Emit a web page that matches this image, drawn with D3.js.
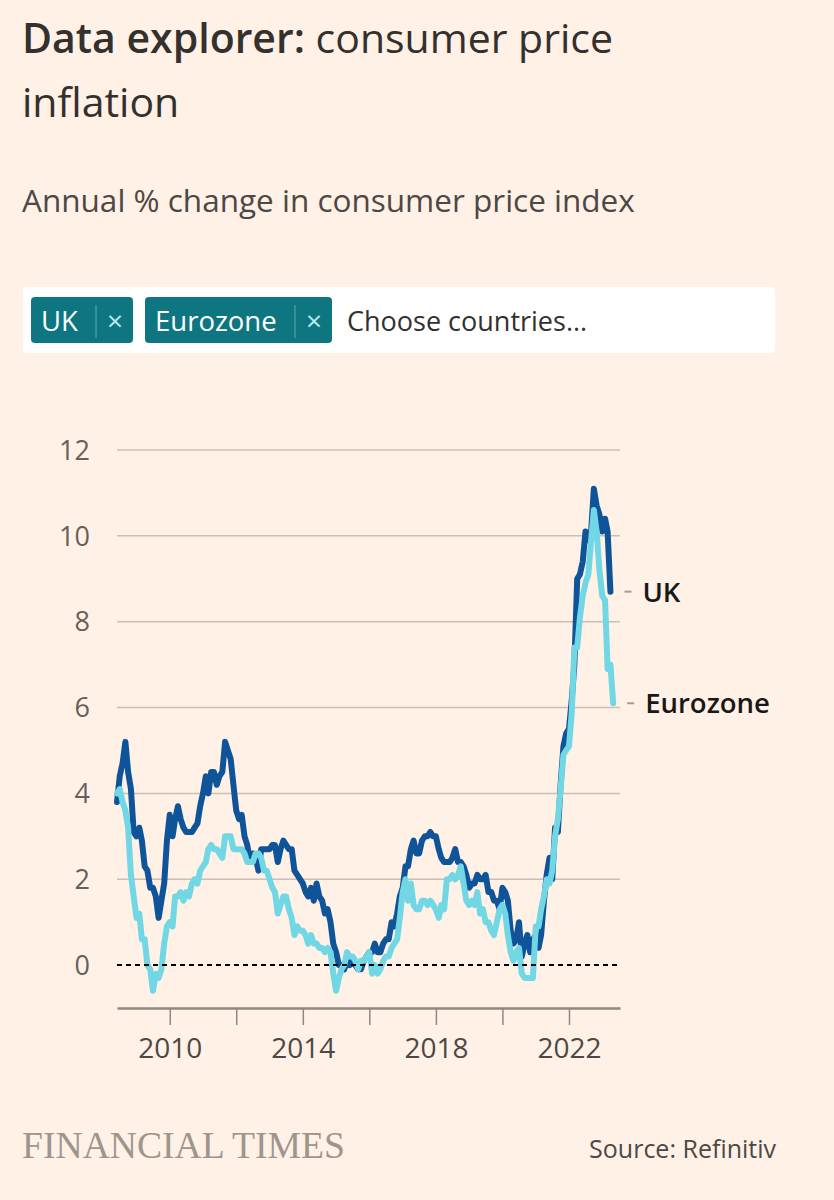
<!DOCTYPE html>
<html>
<head>
<meta charset="utf-8">
<script src="https://cdn.jsdelivr.net/npm/d3@7"></script>
<style>
  html, body { margin: 0; padding: 0; background: #fff1e5; }
  svg { display: block; font-family: 'Open Sans', sans-serif; }
</style>
</head>
<body>
<div id="chart"></div>
<script>
// monthly annual % change, UK from Jun 2008 to Apr 2023
const ukValues = [
  3.8, 4.4, 4.7, 5.2, 4.5, 4.1, 3.1,
  3.0, 3.2, 2.9, 2.3, 2.2, 1.8, 1.8, 1.6, 1.1, 1.5, 1.9, 2.9,
  3.5, 3.0, 3.4, 3.7, 3.4, 3.2, 3.1, 3.1, 3.1, 3.2, 3.3, 3.7,
  4.0, 4.4, 4.0, 4.5, 4.5, 4.2, 4.4, 4.5, 5.2, 5.0, 4.8, 4.2,
  3.6, 3.4, 3.5, 3.0, 2.8, 2.4, 2.6, 2.5, 2.2, 2.7, 2.7, 2.7,
  2.7, 2.8, 2.8, 2.4, 2.7, 2.9, 2.8, 2.7, 2.7, 2.2, 2.1, 2.0,
  1.9, 1.7, 1.6, 1.8, 1.5, 1.9, 1.6, 1.5, 1.2, 1.3, 1.0, 0.5,
  0.3, 0.0, 0.0, -0.1, 0.1, 0.0, 0.1, 0.0, -0.1, -0.1, 0.1, 0.2,
  0.3, 0.3, 0.5, 0.3, 0.3, 0.5, 0.6, 0.6, 1.0, 0.9, 1.2, 1.6,
  1.8, 2.3, 2.3, 2.7, 2.9, 2.6, 2.6, 2.9, 3.0, 3.0, 3.1, 3.0,
  3.0, 2.7, 2.5, 2.4, 2.4, 2.4, 2.5, 2.7, 2.4, 2.4, 2.3, 2.1,
  1.8, 1.9, 1.9, 2.1, 2.0, 2.0, 2.1, 1.7, 1.7, 1.5, 1.5, 1.3,
  1.8, 1.7, 1.5, 0.8, 0.5, 0.6, 1.0, 0.2, 0.5, 0.7, 0.3, 0.6,
  0.7, 0.4, 0.7, 1.5, 2.1, 2.5, 2.0, 3.2, 3.1, 4.2, 5.1, 5.4,
  5.5, 6.2, 7.0, 9.0, 9.1, 9.4, 10.1, 9.9, 10.1, 11.1, 10.7, 10.5,
  10.1, 10.4, 10.1, 8.7
]

// Eurozone from Jun 2008 to May 2023
const euroValues = [
  4.0, 4.1, 3.8, 3.6, 3.2, 2.1, 1.6,
  1.1, 1.2, 0.6, 0.6, 0.0, -0.1, -0.6, -0.2, -0.3, -0.1, 0.5, 0.9,
  1.0, 0.9, 1.6, 1.6, 1.7, 1.5, 1.7, 1.6, 1.9, 2.0, 1.9, 2.2,
  2.3, 2.4, 2.7, 2.8, 2.7, 2.7, 2.6, 2.5, 3.0, 3.0, 3.0, 2.7,
  2.7, 2.7, 2.7, 2.6, 2.4, 2.4, 2.4, 2.6, 2.6, 2.5, 2.2, 2.2,
  2.0, 1.8, 1.7, 1.2, 1.4, 1.6, 1.6, 1.3, 1.1, 0.7, 0.9, 0.8,
  0.8, 0.7, 0.5, 0.7, 0.5, 0.5, 0.4, 0.4, 0.3, 0.4, 0.3, -0.2,
  -0.6, -0.3, -0.1, 0.0, 0.3, 0.2, 0.2, 0.1, -0.1, 0.1, 0.1, 0.2,
  0.3, -0.2, 0.0, -0.2, -0.1, 0.1, 0.2, 0.2, 0.4, 0.5, 0.6, 1.1,
  1.7, 2.0, 1.5, 1.9, 1.4, 1.3, 1.3, 1.5, 1.5, 1.4, 1.5, 1.4,
  1.3, 1.1, 1.4, 1.3, 2.0, 2.0, 2.1, 2.0, 2.1, 2.3, 1.9, 1.5,
  1.4, 1.5, 1.4, 1.7, 1.2, 1.3, 1.0, 1.0, 0.8, 0.7, 1.0, 1.3,
  1.4, 1.2, 0.7, 0.3, 0.1, 0.3, 0.4, -0.2, -0.3, -0.3, -0.3, -0.3,
  0.9, 0.9, 1.3, 1.6, 2.0, 1.9, 2.2, 3.0, 3.4, 4.1, 4.9, 5.0,
  5.1, 5.9, 7.4, 7.4, 8.1, 8.6, 8.9, 9.1, 9.9, 10.6, 10.1, 9.2,
  8.6, 8.5, 6.9, 7.0, 6.1
]

const seriesNames = ['UK', 'Eurozone']
const firstMonth = '2008-06'
const yTicks = [0, 2, 4, 6, 8, 10, 12]
const xTickYears = [2010, 2012, 2014, 2016, 2018, 2020, 2022]
const xLabelYears = [2010, 2014, 2018, 2022]

const colors = { UK: '#0f5499', Eurozone: '#72d7e4' }

const width = 834
const height = 1200

const svg = d3
  .select('#chart')
  .append('svg')
  .attr('width', width)
  .attr('height', height)

// headline
const title = svg.append('text').attr('x', 22).attr('y', 53)
  .attr('font-size', 41).attr('fill', '#33302e')
title.append('tspan').attr('font-weight', 600).text('Data explorer:')
title.append('tspan').text(' consumer price')
svg.append('text').attr('x', 22).attr('y', 117)
  .attr('font-size', 41).attr('fill', '#33302e').text('inflation')

svg.append('text').attr('x', 22).attr('y', 212)
  .attr('font-size', 31.5).attr('fill', '#4d4845')
  .text('Annual % change in consumer price index')

// country picker
svg.append('rect')
  .attr('x', 23).attr('y', 287).attr('width', 752).attr('height', 66)
  .attr('rx', 4).attr('fill', '#ffffff')

const chips = [
  { name: 'UK', x: 31, w: 102, sep: 96 },
  { name: 'Eurozone', x: 145, w: 187, sep: 295 }
]
chips.forEach(c => {
  svg.append('rect')
    .attr('x', c.x).attr('y', 297).attr('width', c.w).attr('height', 46)
    .attr('rx', 4).attr('fill', '#0d7680')
  svg.append('text').attr('x', c.x + 10).attr('y', 331)
    .attr('font-size', 27.5).attr('fill', '#ffffff').text(c.name)
  svg.append('line')
    .attr('x1', c.sep).attr('x2', c.sep).attr('y1', 305).attr('y2', 338)
    .attr('stroke', '#5fa9ae').attr('stroke-width', 1)
  svg.append('text').attr('x', c.sep + 19).attr('y', 331)
    .attr('text-anchor', 'middle')
    .attr('font-size', 28).attr('fill', '#b6ecef').text('×')
})
svg.append('text').attr('x', 347).attr('y', 331)
  .attr('font-size', 27).attr('fill', '#33302e').text('Choose countries...')

// scales
const parseMonth = d3.timeParse('%Y-%m')
const start = parseMonth(firstMonth)
const toSeries = values => values.map((v, i) => ({ date: d3.timeMonth.offset(start, i), value: v }))
const series = { UK: toSeries(ukValues), Eurozone: toSeries(euroValues) }

const xScale = d3
  .scaleTime()
  .domain([start, new Date(2023, 6, 15)])
  .range([117, 620])

const yScale = d3
  .scaleLinear()
  .domain([-1, 12])
  .range([1008, 450])

// gridlines and y labels
const grid = svg.append('g')
grid.selectAll('.grid')
  .data(yTicks.filter(d => d !== 0))
  .enter()
  .append('line')
  .attr('class', 'grid')
  .attr('x1', 117).attr('x2', 620)
  .attr('y1', d => yScale(d)).attr('y2', d => yScale(d))
  .attr('stroke', '#c9bfb7').attr('stroke-width', 1.5)

grid.selectAll('.y-label')
  .data(yTicks)
  .enter()
  .append('text')
  .attr('class', 'y-label')
  .attr('x', 90)
  .attr('y', d => yScale(d))
  .attr('dy', '0.36em')
  .attr('text-anchor', 'end')
  .attr('font-size', 27)
  .attr('fill', '#66605c')
  .text(d => d)

// x axis
const xAxis = d3.axisBottom(xScale)
  .tickValues(xTickYears.map(y => new Date(y, 0, 1)))
  .tickSize(17)
  .tickSizeOuter(0)
  .tickFormat(d => xLabelYears.includes(d.getFullYear()) ? d.getFullYear() : '')

const xg = svg.append('g')
  .attr('transform', 'translate(0,' + yScale(-1) + ')')
  .call(xAxis)
xg.select('.domain').attr('stroke', '#8f8781').attr('stroke-width', 2.5)
xg.selectAll('.tick line').attr('stroke', '#8f8781').attr('stroke-width', 1.5)
xg.selectAll('.tick text')
  .attr('font-size', 28)
  .attr('font-family', "'Open Sans', sans-serif")
  .attr('fill', '#4d4845')
  .attr('y', 50)
  .attr('dy', 0)

// lines
const line = d3
  .line()
  .x(d => xScale(d.date))
  .y(d => yScale(d.value))

seriesNames.forEach(name => {
  svg.append('path')
    .datum(series[name])
    .attr('d', line)
    .attr('fill', 'none')
    .attr('stroke', colors[name])
    .attr('stroke-width', 6)
    .attr('stroke-linejoin', 'round')
    .attr('stroke-linecap', 'round')
})

// zero line
svg.append('line')
  .attr('x1', 117).attr('x2', 620)
  .attr('y1', yScale(0)).attr('y2', yScale(0))
  .attr('stroke', '#000000').attr('stroke-width', 2)
  .attr('stroke-dasharray', '5,4')

// end labels
seriesNames.forEach(name => {
  const last = series[name][series[name].length - 1]
  const lx = xScale(last.date)
  const ly = yScale(last.value)
  svg.append('line')
    .attr('x1', lx + 14).attr('x2', lx + 21)
    .attr('y1', ly).attr('y2', ly)
    .attr('stroke', '#a39c96').attr('stroke-width', 2)
  svg.append('text')
    .attr('x', lx + 32)
    .attr('y', ly)
    .attr('dy', '0.36em')
    .attr('font-size', 27.5)
    .attr('font-weight', 600)
    .attr('fill', '#1a1817')
    .text(name)
})

// footer
svg.append('text').attr('x', 22).attr('y', 1158)
  .style('font-family', "'Liberation Serif', 'DejaVu Serif', serif")
  .attr('font-size', 38)
  .attr('fill', '#9e958d')
  .attr('textLength', 323)
  .attr('lengthAdjust', 'spacingAndGlyphs')
  .text('FINANCIAL TIMES')

svg.append('text').attr('x', 776).attr('y', 1158)
  .attr('text-anchor', 'end')
  .attr('font-size', 25)
  .attr('fill', '#4d4845')
  .text('Source: Refinitiv')
</script>
</body>
</html>
